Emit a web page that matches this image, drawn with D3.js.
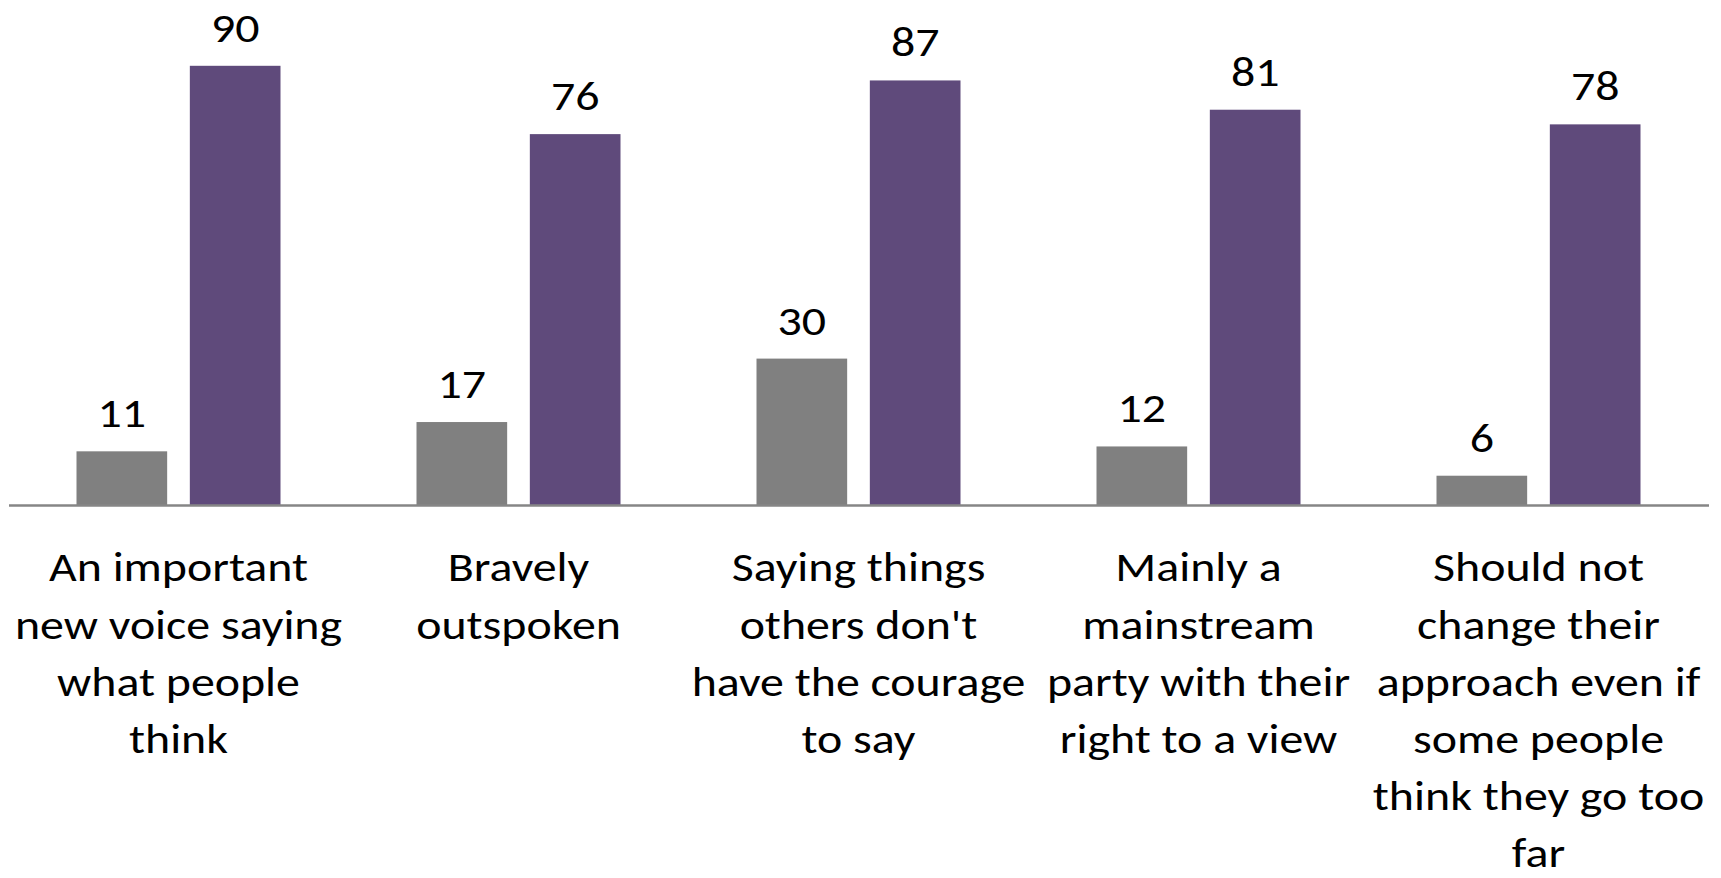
<!DOCTYPE html>
<html>
<head>
<meta charset="utf-8">
<script src="https://cdn.jsdelivr.net/npm/d3@7"></script>
<style>
  html, body { margin: 0; padding: 0; background: #ffffff; }
  svg { display: block; }
  text { font-family: Carlito, Calibri, Lato, "Open Sans", sans-serif; fill: #000; }
</style>
</head>
<body>
<svg id="chart" width="1721" height="878"></svg>
<script>
// ---- data ----
const categories = [
  "An important new voice saying what people think",
  "Bravely outspoken",
  "Saying things others don't have the courage to say",
  "Mainly a mainstream party with their right to a view",
  "Should not change their approach even if some people think they go too far"
];
const categoryLines = [
  ["An important", "new voice saying", "what people", "think"],
  ["Bravely", "outspoken"],
  ["Saying things", "others don't", "have the courage", "to say"],
  ["Mainly a", "mainstream", "party with their", "right to a view"],
  ["Should not", "change their", "approach even if", "some people", "think they go too", "far"]
];
const seriesNames = ["Series A", "Series B"];
const seriesA = [11, 17, 30, 12, 6];
const seriesB = [90, 76, 87, 81, 78];
const seriesColors = ["#808080", "#5F4A7B"];

// ---- layout ----
const svg = d3.select("#chart");
const fontSize = 42;
const stretch = 1.14;

const x0 = d3.scaleBand().domain(categories).range([8.5, 1708.5]).paddingInner(0).paddingOuter(0);
const x1 = d3.scaleBand().domain(seriesNames).range([68, 272]).paddingInner(0.2);
const y = d3.scaleLinear().domain([0, 100]).range([505, 17]);

const rows = categories.map((c, i) => ({cat: c, values: [seriesA[i], seriesB[i]]}));

const groups = svg.selectAll("g.grp").data(rows).join("g")
  .attr("class", "grp")
  .attr("transform", d => `translate(${x0(d.cat)},0)`);

groups.selectAll("rect").data(d => d.values.map((v, j) => ({s: seriesNames[j], v, j}))).join("rect")
  .attr("x", d => x1(d.s))
  .attr("width", x1.bandwidth())
  .attr("y", d => y(d.v))
  .attr("height", d => y(0) - y(d.v))
  .attr("fill", d => seriesColors[d.j]);

groups.selectAll("text.val").data(d => d.values.map((v, j) => ({s: seriesNames[j], v, j}))).join("text")
  .attr("class", "val")
  .attr("transform", d => `translate(${x1(d.s) + x1.bandwidth() / 2},${y(d.v) - 24}) scale(${stretch},1)`)
  .attr("text-anchor", "middle")
  .style("font-size", fontSize + "px")
  .text(d => d.v);

// axis line
const xAxis = d3.axisBottom(x0).tickSize(0).tickFormat("");
const axG = svg.append("g").attr("transform", `translate(0,${y(0)})`).call(xAxis);
axG.select(".domain").attr("stroke", "#868686").attr("stroke-width", 2.5);

// category labels
const lineH = 57.2;
svg.selectAll("text.cat").data(categories).join("text")
  .attr("class", "cat")
  .attr("text-anchor", "middle")
  .attr("transform", d => `translate(${x0(d) + x0.bandwidth() / 2},0) scale(${stretch},1)`)
  .style("font-size", fontSize + "px")
  .each(function(d, i) {
    const t = d3.select(this);
    categoryLines[i].forEach((ln, k) => {
      t.append("tspan").attr("x", 0).attr("y", 581.5 + k * lineH).text(ln);
    });
  });
</script>
</body>
</html>
